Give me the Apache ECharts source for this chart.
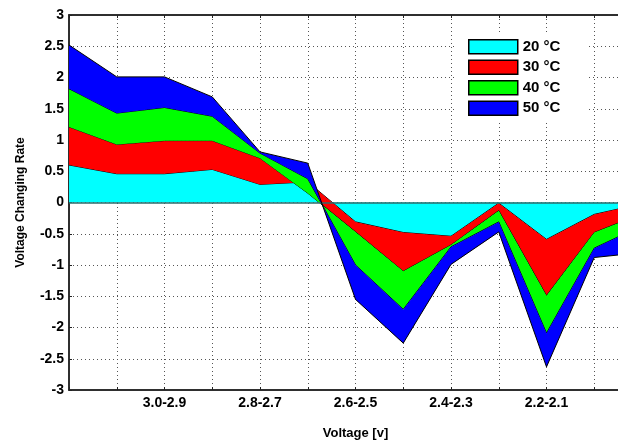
<!DOCTYPE html>
<html>
<head>
<meta charset="utf-8">
<script src="https://cdn.jsdelivr.net/npm/echarts@6/dist/echarts.min.js"></script>
<style>
    html, body { margin: 0; padding: 0; background: #fff; }
    #main { width: 618px; height: 440px; }
</style>
</head>
<body>
<div id="main"></div>
<script>
// voltage windows (x categories)
var categories = [
    '3.2-3.1', '3.1-3.0', '3.0-2.9', '2.9-2.8', '2.8-2.7', '2.7-2.6', '2.6-2.5',
    '2.5-2.4', '2.4-2.3', '2.3-2.2', '2.2-2.1', '2.1-2.0', '2.0-1.9',
]
var seriesNames = ['20 °C', '30 °C', '40 °C', '50 °C']
// each temperature adds on top of the previous one
var t20 = [0.60, 0.46, 0.46, 0.53, 0.29, 0.33, -0.31, -0.48, -0.54, -0.01, -0.59, -0.19, -0.02]
var t30 = [0.61, 0.47, 0.53, 0.46, 0.42, -0.18, -0.16, -0.62, -0.14, -0.12, -0.90, -0.29, -0.16]
var t40 = [0.61, 0.50, 0.53, 0.39, 0.08, 0.23, -0.53, -0.61, -0.03, -0.18, -0.60, -0.25, -0.19]
var t50 = [0.70, 0.58, 0.49, 0.31, 0.02, 0.25, -0.55, -0.54, -0.28, -0.16, -0.54, -0.15, -0.43]
var yTicks = { min: -3, max: 3, step: 0.5 }

var colors = ['#00ffff', '#ff0000', '#00ff00', '#0000ff']
var font = 'Liberation Sans, Arial, sans-serif'

function makeSeries(name, data, idx) {
    var s = {
        name: name,
        type: 'line',
        data: data,
        stack: 'total',
        stackStrategy: 'all', // plain cumulative sum, like matlab area()
        showSymbol: false,
        symbol: 'none',
        silent: true,
        lineStyle: { color: '#000', width: 1 },
        itemStyle: { color: colors[idx] },
        areaStyle: { color: colors[idx], opacity: 1 },
        z: 2 + idx,
    }
    if (idx === 0) {
        // dark baseline at y = 0
        s.markLine = {
            silent: true,
            symbol: 'none',
            label: { show: false },
            lineStyle: { color: '#2e6b6b', type: 'solid', width: 1.5 },
            data: [{ yAxis: 0 }],
        }
    }
    return s
}

function renderChart() {
    var chartDom = document.getElementById('main')
    var myChart = echarts.init(chartDom, null, { renderer: 'canvas' })
    var allData = [t20, t30, t40, t50]
    var series = []
    for (var i = 0; i < allData.length; i++) {
        series.push(makeSeries(seriesNames[i], allData[i], i))
    }
    var option = {
        animation: false,
        backgroundColor: '#fff',
        textStyle: { fontFamily: font },
        // plot runs past the right edge of the picture (cropped figure)
        grid: {
            left: 69, top: 15, width: 573, height: 375,
            containLabel: false, outerBoundsMode: 'none',
            show: true, borderColor: '#222', borderWidth: 1.5, backgroundColor: 'transparent',
        },
        legend: {
            orient: 'vertical',
            left: 457,
            top: 33,
            padding: [6, 28, 4, 11],
            backgroundColor: '#fff',
            itemWidth: 49,
            itemHeight: 14,
            itemGap: 5,
            icon: 'rect',
            selectedMode: false,
            data: seriesNames,
            itemStyle: { borderColor: '#000', borderWidth: 1.5 },
            textStyle: { fontFamily: font, fontSize: 15, fontWeight: 'bold', color: '#000', lineHeight: 14 },
        },
        xAxis: [
            {
                type: 'category',
                data: categories,
                boundaryGap: false,
                name: 'Voltage [v]',
                nameLocation: 'middle',
                nameGap: 37,
                nameTextStyle: { fontFamily: font, fontSize: 13, fontWeight: 'bold', color: '#000' },
                axisLine: { onZero: false, lineStyle: { color: '#222', width: 1.5 } },
                axisTick: { inside: true, length: 3, interval: 0, lineStyle: { color: '#222' } },
                axisLabel: {
                    interval: function (i) { return i > 0 && i % 2 === 0 },
                    margin: 6,
                    fontFamily: font,
                    fontSize: 14,
                    fontWeight: 'bold',
                    color: '#000',
                },
                splitLine: { show: true, interval: 0, lineStyle: { color: '#555', type: [1, 3], width: 1 } },
            },
            {
                type: 'category',
                data: categories,
                boundaryGap: false,
                position: 'top',
                show: true,
                axisLine: { show: true, onZero: false, lineStyle: { color: '#222', width: 1.5 } },
                axisTick: { show: true, inside: true, length: 3, interval: 0, lineStyle: { color: '#222' } },
                axisLabel: { show: false },
                splitLine: { show: false },
            },
        ],
        yAxis: {
            type: 'value',
            min: yTicks.min,
            max: yTicks.max,
            interval: yTicks.step,
            name: 'Voltage Changing Rate',
            nameLocation: 'middle',
            nameGap: 42,
            nameRotate: 90,
            nameTextStyle: { fontFamily: font, fontSize: 12, fontWeight: 'bold', color: '#000' },
            axisLine: { show: true, lineStyle: { color: '#222', width: 1.5 } },
            axisTick: { show: true, inside: true, length: 3, lineStyle: { color: '#222' } },
            axisLabel: { margin: 5, fontFamily: font, fontSize: 14, fontWeight: 'bold', color: '#000' },
            splitLine: { show: true, lineStyle: { color: '#555', type: [1, 3], width: 1 } },
        },
        series: series,
    }
    option && myChart.setOption(option)
}

renderChart()
</script>
</body>
</html>
